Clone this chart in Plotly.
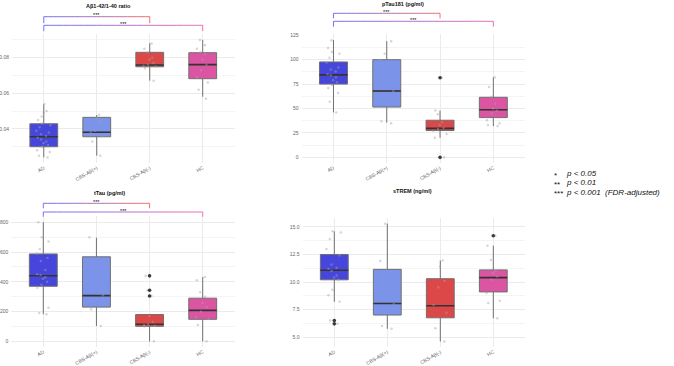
import plotly.graph_objects as go

W, H = 674, 366

# ---------------- data ----------------
groups = ["AD", "CBS-Aβ(+)", "CBS-Aβ(-)", "HC"]
group_colors = ["#4646DC", "#7B93E8", "#DC4848", "#DC55A3"]

titles = ["Aβ1-42/1-40 ratio", "pTau181 (pg/ml)", "tTau (pg/ml)", "sTREM (ng/ml)"]

# box statistics per panel: [AD, CBS+, CBS-, HC]
abeta_q1 = [0.0300, 0.0356, 0.0749, 0.0682]
abeta_med = [0.0356, 0.0381, 0.0759, 0.0761]
abeta_q3 = [0.0429, 0.0465, 0.0830, 0.0828]
abeta_lo = [0.0240, 0.0250, 0.0671, 0.0581]
abeta_hi = [0.0538, 0.0478, 0.0881, 0.0900]
abeta_out = [[], [], [], []]
abeta_pts = [
    [0.024, 0.025, 0.027, 0.028, 0.030, 0.031, 0.032, 0.033, 0.034, 0.035, 0.036,
     0.037, 0.038, 0.039, 0.041, 0.042, 0.043, 0.045, 0.047, 0.049, 0.050, 0.054],
    [0.025, 0.033, 0.036, 0.038, 0.039, 0.044, 0.046, 0.048],
    [0.0671, 0.074, 0.075, 0.0755, 0.076, 0.077, 0.079, 0.080, 0.083, 0.085, 0.088],
    [0.057, 0.062, 0.066, 0.069, 0.073, 0.076, 0.079, 0.082, 0.083, 0.085, 0.087, 0.090],
]

ptau_q1 = [75.0, 51.5, 27.5, 40.7]
ptau_med = [84.5, 68.0, 29.7, 48.8]
ptau_q3 = [97.7, 100.0, 38.0, 61.5]
ptau_lo = [46.0, 35.5, 20.0, 32.0]
ptau_hi = [120.0, 119.0, 48.0, 82.0]
ptau_out = [[], [], [81.5, 0.0], []]
ptau_pts = [
    [46, 57, 66, 71, 74, 77, 79, 82, 84, 85, 88, 90, 92, 97, 102, 106, 108, 112, 120],
    [35, 37, 68, 100, 106, 119],
    [0, 20, 24, 27, 29, 30, 33, 36, 44, 48, 81.5],
    [32, 33, 35, 38, 45, 48, 50, 55, 62, 72, 82],
]

ttau_q1 = [370, 230, 101, 148]
ttau_med = [441, 307, 115, 208]
ttau_q3 = [587, 568, 180, 290]
ttau_lo = [182, 103, 0, 0]
ttau_hi = [800, 696, 184, 432]
ttau_out = [[], [], [440, 343, 305], []]
ttau_pts = [
    [182, 190, 225, 360, 380, 400, 420, 430, 445, 450, 480, 540, 560, 590, 620, 670, 700, 800],
    [103, 215, 310, 700],
    [0, 100, 105, 110, 115, 130, 170, 305, 343, 440],
    [0, 110, 150, 160, 200, 230, 260, 300, 330, 410, 432],
]

strem_q1 = [10.2, 7.0, 6.75, 9.1]
strem_med = [11.07, 8.05, 7.85, 10.4]
strem_q3 = [12.5, 11.15, 10.3, 11.1]
strem_lo = [8.2, 5.75, 4.6, 6.7]
strem_hi = [14.6, 15.3, 11.95, 13.3]
strem_out = [[6.5, 6.2], [], [], [14.2]]
strem_pts = [
    [6.2, 6.5, 8.2, 8.8, 9.3, 10.2, 10.4, 10.6, 11.0, 11.2, 11.3, 11.6, 12.4, 13.0, 13.9, 14.5, 14.6],
    [5.75, 6.0, 8.0, 11.9, 15.3],
    [4.6, 5.8, 7.2, 7.9, 9.5, 10.1, 11.4, 11.95],
    [6.7, 8.1, 8.3, 9.0, 10.2, 10.5, 10.8, 11.0, 12.0, 13.3, 14.2],
]

# significance comparisons (group index a, group index b, label)
abeta_sig = [(0, 2, "***"), (0, 3, "***")]
ptau_sig = [(0, 2, "***"), (0, 3, "***")]
ttau_sig = [(0, 2, "***"), (0, 3, "***")]
strem_sig = []

legend_stars = ["*", "**", "***"]
legend_text = ["p < 0.05", "p < 0.01", "p < 0.001  (FDR-adjusted)"]

# ---------------- layout helpers ----------------
def fx(p):
    return p / W

def fy(p):
    return 1 - p / H

panels = [
    dict(stats=(abeta_q1, abeta_med, abeta_q3, abeta_lo, abeta_hi), out=abeta_out, pts=abeta_pts,
         sig=abeta_sig, xd=(12, 234.5), yd=(34, 163.3), yr=[0.0207, 0.0933], dtick=0.02, minor=0.01,
         fmt=".2f", title_xy=(108, 6), br=[(16.7, 6.5), (25.3, 6.0)]),
    dict(stats=(ptau_q1, ptau_med, ptau_q3, ptau_lo, ptau_hi), out=ptau_out, pts=ptau_pts,
         sig=ptau_sig, xd=(301.5, 525.3), yd=(34.3, 163.2), yr=[-6, 126], dtick=25, minor=12.5,
         fmt="d", title_xy=(403, 3.8), br=[(13.3, 5.0), (21.3, 5.4)]),
    dict(stats=(ttau_q1, ttau_med, ttau_q3, ttau_lo, ttau_hi), out=ttau_out, pts=ttau_pts,
         sig=ttau_sig, xd=(11.4, 234.6), yd=(216.3, 347.3), yr=[-40, 840], dtick=200, minor=100,
         fmt="d", title_xy=(109, 193), br=[(203.3, 5.0), (212.0, 4.7)]),
    dict(stats=(strem_q1, strem_med, strem_q3, strem_lo, strem_hi), out=strem_out, pts=strem_pts,
         sig=strem_sig, xd=(302.5, 525.1), yd=(217.8, 347.3), yr=[4.07, 15.83], dtick=2.5, minor=1.25,
         fmt=".1f", title_xy=(412.5, 190.5), br=[]),
]

fig = go.Figure()
shapes = []
annotations = []
layout_axes = {}

def hex_to_rgb(h):
    h = h.lstrip("#")
    return tuple(int(h[i:i + 2], 16) for i in (0, 2, 4))

grad_start = "#5C5CF2"
grad_end = {2: "#EA5A5A", 3: "#EA58A8"}

for k, p in enumerate(panels):
    n = k + 1
    xa = "x" if n == 1 else f"x{n}"
    ya = "y" if n == 1 else f"y{n}"
    q1, med, q3, lo, hi = p["stats"]

    # boxes
    for g, name in enumerate(groups):
        fig.add_trace(go.Box(
            x=[name], q1=[q1[g]], median=[med[g]], q3=[q3[g]],
            lowerfence=[lo[g]], upperfence=[hi[g]],
            fillcolor=group_colors[g], line=dict(color="#707070", width=1),
            whiskerwidth=0, boxpoints=False, xaxis=xa, yaxis=ya, hoverinfo="skip"))
    # median lines
    for g, name in enumerate(groups):
        fig.add_trace(go.Box(
            x=[name], q1=[med[g]], median=[med[g]], q3=[med[g]],
            lowerfence=[med[g]], upperfence=[med[g]],
            fillcolor="rgba(0,0,0,0)", line=dict(color="#333333", width=1.6),
            whiskerwidth=0, boxpoints=False, xaxis=xa, yaxis=ya, hoverinfo="skip"))
    # jittered points (box hidden)
    for g, name in enumerate(groups):
        fig.add_trace(go.Box(
            x=[name] * len(p["pts"][g]), y=p["pts"][g], boxpoints="all", jitter=0.6, pointpos=0,
            fillcolor="rgba(0,0,0,0)", line=dict(width=0, color="rgba(0,0,0,0)"),
            marker=dict(color="rgba(165,165,165,0.45)", size=2.5),
            whiskerwidth=0, xaxis=xa, yaxis=ya, hoverinfo="skip"))
    # outliers
    for g, name in enumerate(groups):
        if p["out"][g]:
            fig.add_trace(go.Scatter(
                x=[name] * len(p["out"][g]), y=p["out"][g], mode="markers",
                marker=dict(color="#3A3A3A", size=3.6), xaxis=xa, yaxis=ya,
                hoverinfo="skip", cliponaxis=False))

    layout_axes["xaxis" if n == 1 else f"xaxis{n}"] = dict(
        domain=[fx(p["xd"][0]), fx(p["xd"][1])], anchor=ya, type="category",
        categoryorder="array", categoryarray=groups, range=[-0.6, 3.6],
        tickangle=-30, tickfont=dict(size=5, color="#666666"), showgrid=True,
        gridcolor="#EBEBEB", gridwidth=0.8, zeroline=False, showline=False, ticks="",
        ticklabelstandoff=0, automargin=False, fixedrange=True)
    layout_axes["yaxis" if n == 1 else f"yaxis{n}"] = dict(
        domain=[fy(p["yd"][1]), fy(p["yd"][0])], anchor=xa, range=p["yr"],
        tickmode="linear", tick0=0, dtick=p["dtick"], tickformat=p["fmt"],
        tickfont=dict(size=5, color="#666666"), showgrid=True, gridcolor="#EBEBEB",
        gridwidth=0.8, zeroline=False, showline=False, ticks="", ticklabelstandoff=2,
        minor=dict(dtick=p["minor"], tick0=0, showgrid=True, gridcolor="#F4F4F4", gridwidth=0.6),
        automargin=False, fixedrange=True)

    # title
    annotations.append(dict(text=f"<b>{titles[k]}</b>", x=fx(p["title_xy"][0]), y=fy(p["title_xy"][1]),
                            xref="paper", yref="paper", showarrow=False, xanchor="center",
                            yanchor="middle", borderpad=0, font=dict(size=5.5, color="#111111")))

    # significance brackets
    for (a, b, lab), (yl, tick) in zip(p["sig"], p["br"]):
        c0 = hex_to_rgb(grad_start)
        c1 = hex_to_rgb(grad_end[b])
        nseg = 24
        for s in range(nseg):
            t = (s + 0.5) / nseg
            col = "rgb(%d,%d,%d)" % tuple(int(c0[i] + (c1[i] - c0[i]) * t) for i in range(3))
            shapes.append(dict(type="line", xref=xa, yref="paper",
                               x0=a + (b - a) * s / nseg, x1=a + (b - a) * (s + 1) / nseg,
                               y0=fy(yl), y1=fy(yl), line=dict(color=col, width=1), opacity=0.85))
        shapes.append(dict(type="line", xref=xa, yref="paper", x0=a, x1=a, y0=fy(yl), y1=fy(yl + tick),
                           line=dict(color="rgb(%d,%d,%d)" % c0, width=1), opacity=0.85))
        shapes.append(dict(type="line", xref=xa, yref="paper", x0=b, x1=b, y0=fy(yl), y1=fy(yl + tick),
                           line=dict(color="rgb(%d,%d,%d)" % c1, width=1), opacity=0.85))
        annotations.append(dict(text=lab, x=(a + b) / 2, y=fy(yl - 1.4), xref=xa, yref="paper",
                                showarrow=False, xanchor="center", yanchor="middle", borderpad=0,
                                font=dict(size=5.5, color="#111111")))

# significance legend
leg_y = [173.5, 182.7, 192.0]
for i in range(3):
    annotations.append(dict(text=legend_stars[i], x=fx(552.5), y=fy(leg_y[i] + 1.5), xref="paper",
                            yref="paper", showarrow=False, xanchor="left", yanchor="middle",
                            borderpad=0, font=dict(size=8, color="#111111")))
    annotations.append(dict(text=f"<i>{legend_text[i]}</i>", x=fx(564.5), y=fy(leg_y[i]), xref="paper",
                            yref="paper", showarrow=False, xanchor="left", yanchor="middle",
                            borderpad=0, font=dict(size=8, color="#111111")))

fig.update_layout(
    width=W, height=H, margin=dict(l=0, r=0, t=0, b=0),
    paper_bgcolor="white", plot_bgcolor="white", showlegend=False,
    font=dict(family="Liberation Sans, Arial, sans-serif"),
    boxmode="overlay", boxgap=0.25,
    shapes=shapes, annotations=annotations, **layout_axes)

fig.write_html("out.html", config={"displayModeBar": False},
               post_script="document.body.style.margin='0px';")
